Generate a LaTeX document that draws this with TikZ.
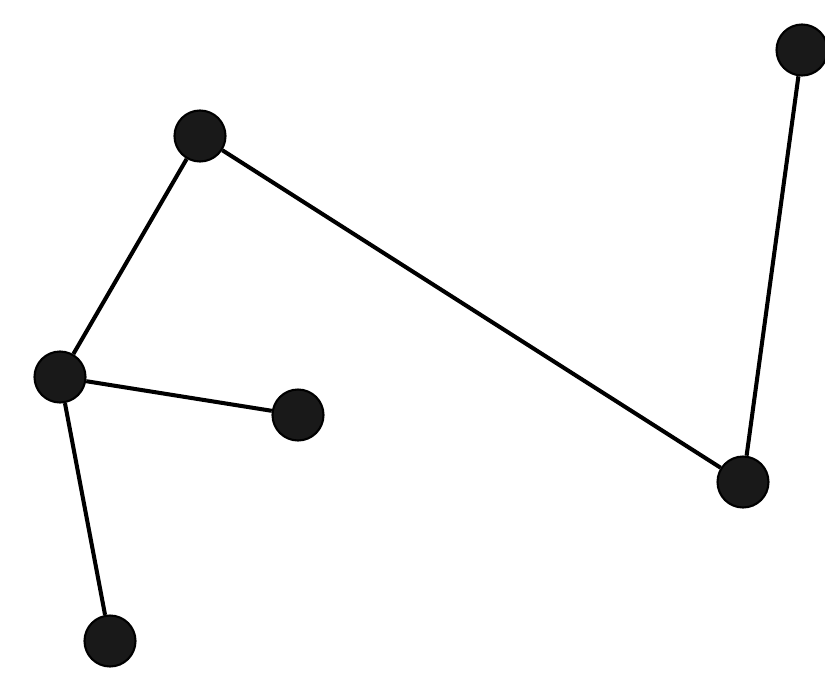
\documentclass[tikz,border=0pt]{standalone}
\begin{document}
\begin{tikzpicture}[x=0.02cm,y=-0.02cm,
  vertex/.style={circle,fill=black!90,draw=black,line width=1.2pt,minimum size=1.02cm,inner sep=0pt},
  edge/.style={line width=2.3pt}]
 \useasboundingbox (0,0) rectangle (825,676);
 \node[vertex] (a) at (200,136) {};
 \node[vertex] (b) at (802,50) {};
 \node[vertex] (c) at (60,377) {};
 \node[vertex] (d) at (298,415) {};
 \node[vertex] (e) at (743,482) {};
 \node[vertex] (f) at (110,641) {};
 \draw[edge] (a)--(c) (a)--(e) (e)--(b);
 \draw[edge] (c)--(d) (c)--(f);
\end{tikzpicture}
\end{document}
